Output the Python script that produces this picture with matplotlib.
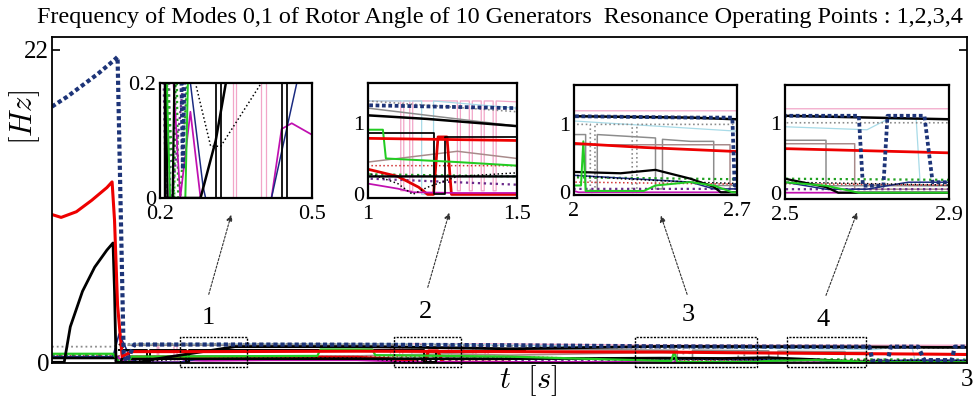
#!/usr/bin/python
# -*- coding: utf-8 -*-

import numpy as np
import matplotlib
matplotlib.use("Agg")
import matplotlib.pyplot as plt

#------------------------------Data----------------------
# each trace: time [s] and frequency [Hz] breakpoints
t_navy_dot = [0, 0.05, 0.1, 0.15, 0.2, 0.215, 0.225, 0.235, 0.245, 0.27, 0.6, 1.0,
              1.5, 2.0, 2.5, 2.68, 2.69, 2.74, 2.75, 2.84, 2.86, 2.95, 2.96, 3.0]
f_navy_dot = [18.0, 18.7, 19.5, 20.3, 21.2, 21.5, 11.0, 0.6, 0.05, 1.25, 1.25, 1.24,
              1.2, 1.12, 1.1, 1.1, 0.1, 0.1, 1.1, 1.1, 0.15, 0.15, 1.1, 1.1]

t_red = [0, 0.03, 0.08, 0.13, 0.18, 0.197, 0.205, 0.215, 0.23, 0.26, 0.5, 1.0,
         1.5, 2.0, 2.3, 2.5, 2.7, 2.9, 3.0]
f_red = [10.4, 10.2, 10.6, 11.4, 12.3, 12.7, 10.0, 4.0, 0.4, 0.75, 0.75, 0.78,
         0.75, 0.72, 0.66, 0.63, 0.6, 0.57, 0.55]

t_black = [0, 0.04, 0.06, 0.1, 0.14, 0.18, 0.2, 0.205, 0.21, 0.28, 0.31, 0.33,
           0.45, 0.6, 1.0, 1.2, 1.35, 1.5, 2.0, 2.5, 2.9, 3.0]
f_black = [0.0, 0.0, 2.5, 5.0, 6.7, 7.9, 8.4, 5.0, 0.0, 0.0, 0.1, 0.2,
           0.6, 1.1, 1.1, 1.05, 1.0, 0.95, 1.12, 1.1, 1.05, 1.05]

t_black2 = [0.22, 0.31, 0.31, 0.32, 0.32, 0.44, 0.44, 0.45, 0.45, 1.0, 1.22,
            1.22, 1.26, 1.26, 1.5, 1.55]
f_black2 = [0.85, 0.85, 0.0, 0.0, 0.85, 0.85, 0.0, 0.0, 0.85, 0.85, 0.85,
            0.0, 0.0, 0.8, 0.8, 0.8]

t_black_low = [0, 0.21, 0.215, 0.225, 0.23, 0.25, 1.0, 1.5, 2.0, 2.2, 2.35,
               2.5, 2.6, 2.63, 3.0]
f_black_low = [0.3, 0.3, 0.0, 0.0, 0.3, 0.25, 0.25, 0.25, 0.3, 0.28, 0.33,
               0.2, 0.08, 0.0, 0.0]

t_black_dot = [0.22, 0.27, 0.3, 0.32, 0.4, 0.6, 1.0, 1.1, 1.15, 1.2, 1.3, 1.5,
               2.0, 2.2, 2.5, 3.0]
f_black_dot = [1.3, 0.2, 0.09, 0.09, 0.2, 0.3, 0.3, 0.15, 0.0, 0.1, 0.25, 0.3,
               0.25, 0.2, 0.15, 0.1]

t_grey_dot = [0, 0.2, 0.23, 0.26, 1.0, 2.0, 2.07, 2.07, 2.09, 2.09, 2.25, 2.25,
              2.27, 2.27, 2.5, 3.0]
f_grey_dot = [1.1, 1.1, 1.3, 1.3, 1.3, 1.0, 1.0, 0.0, 0.0, 1.0, 1.0, 0.0,
              0.0, 1.0, 1.0, 1.0]

t_grey = [0.25, 1.0, 1.3, 1.5, 2.0, 2.05, 2.05, 2.1, 2.1, 2.35, 2.35, 2.38,
          2.38, 2.5, 2.6, 2.6, 3.0]
f_grey = [1.2, 1.2, 1.05, 0.95, 0.85, 0.85, 0.0, 0.0, 0.85, 0.8, 0.05, 0.05,
          0.78, 0.75, 0.75, 0.1, 0.1]

t_brown = [0.25, 1.0, 1.3, 1.5, 2.0, 2.5, 2.67, 2.67, 3.0]
f_brown = [0.45, 0.45, 0.6, 0.5, 0.7, 0.7, 0.7, 0.05, 0.05]

t_green = [0, 0.2, 0.22, 0.25, 0.26, 0.87, 0.88, 1.05, 1.06, 1.3, 1.5, 2.0,
           2.03, 2.04, 2.05, 2.1, 2.3, 2.35, 2.5, 2.6, 2.68, 3.0]
f_green = [0.6, 0.6, 0.0, 0.0, 0.4, 0.45, 0.9, 0.9, 0.5, 0.45, 0.4, 0.1,
           0.1, 0.75, 0.02, 0.02, 0.02, 0.1, 0.15, 0.1, 0.0, 0.0]

t_green_dot = [0, 0.2, 0.228, 0.232, 0.236, 0.24, 0.26, 1.0, 2.0, 3.0]
f_green_dot = [0.45, 0.45, 0.0, 0.3, 0.0, 0.0, 0.3, 0.28, 0.22, 0.18]

t_purple_dot = [0, 0.2, 0.212, 0.216, 0.22, 0.224, 0.25, 1.0, 2.0, 3.0]
f_purple_dot = [0.5, 0.5, 0.0, 0.4, 0.0, 0.0, 0.24, 0.22, 0.05, 0.05]

t_magenta = [0, 0.22, 0.24, 0.26, 0.28, 0.42, 0.44, 0.46, 0.5, 0.7, 1.0, 1.1,
             1.15, 1.3, 2.0, 2.02, 3.0]
f_magenta = [0.3, 0.3, 0.0, 0.15, 0.0, 0.0, 0.12, 0.13, 0.11, 0.15, 0.15, 0.08,
             0.03, 0.02, 0.02, 0.0, 0.0]

t_pink = [0.25, 0.345, 0.345, 0.35, 0.35, 0.40, 0.40, 0.41, 0.41, 1.11, 1.11,
          1.12, 1.12, 1.14, 1.14, 1.15, 1.15, 1.3, 1.3, 1.31, 1.31, 1.34, 1.34,
          1.35, 1.35, 1.38, 1.38, 1.39, 1.39, 1.42, 1.42, 1.43, 1.43, 2.0, 3.0]
f_pink = [1.3, 1.3, 0.0, 0.0, 1.3, 1.3, 0.0, 0.0, 1.3, 1.3, 0.05,
          0.05, 1.3, 1.3, 0.05, 0.05, 1.3, 1.3, 0.05, 0.05, 1.3, 1.3, 0.05,
          0.05, 1.3, 1.3, 0.05, 0.05, 1.3, 1.3, 0.05, 0.05, 1.3, 1.2, 1.2]

t_lightblue = [0.25, 1.0, 1.18, 1.18, 1.22, 1.22, 1.5, 2.0, 2.7, 2.75, 2.82,
               2.83, 2.9, 3.0]
f_lightblue = [1.3, 1.3, 1.3, 0.0, 0.0, 1.3, 1.2, 1.05, 0.9, 1.05, 1.05,
               0.1, 0.1, 0.1]

t_navy = [0, 0.2, 0.22, 0.26, 0.285, 0.29, 0.42, 0.47, 0.6, 1.0, 1.5, 2.0, 2.5,
          2.6, 2.7, 2.8, 2.9, 3.0]
f_navy = [0.4, 0.4, 2.0, 0.2, 0.02, 0.0, 0.0, 0.2, 0.25, 0.25, 0.25, 0.25,
          0.15, 0.05, 0.05, 0.15, 0.15, 0.15]

t_red_dot = [0, 0.22, 0.25, 1.0, 1.5, 2.0, 2.7, 3.0]
f_red_dot = [0.45, 0.45, 0.4, 0.4, 0.4, 0.15, 0.12, 0.1]

t_red2 = [0.25, 1.0, 1.1, 1.17, 1.2, 1.22, 1.235, 1.265, 1.28, 1.5]
f_red2 = [0.35, 0.35, 0.25, 0.1, 0.0, 0.0, 0.8, 0.8, 0.0, 0.0]

# zoom windows of the insets
inset_xlim = [(0.2, 0.5), (1.0, 1.5), (2.0, 2.7), (2.5, 2.9)]
inset_ylim = [(0, 0.2), (-0.05, 1.55), (-0.04, 1.58), (-0.09, 1.54)]
inset_xticks = [[0.2, 0.5], [1, 1.5], [2, 2.7], [2.5, 2.9]]
inset_yticks = [[0, 0.2], [0, 1], [0, 1], [0, 1]]
inset_xlabels = [["0.2", "0.5"], ["1", "1.5"], ["2", "2.7"], ["2.5", "2.9"]]
inset_ylabels = [["0", "0.2"], ["0", "1"], ["0", "1"], ["0", "1"]]

# dashed boxes on the main axes (t0, t1)
box_t = [(0.42, 0.64), (1.12, 1.34), (1.91, 2.31), (2.41, 2.67)]
box_f = (-0.35, 1.8)
#------------------------------------------------------------------------------


def draw_traces(ax, scale=1.0):
    ax.plot(t_pink, f_pink, color="#f2a6c8", lw=1.0 * scale)
    ax.plot(t_lightblue, f_lightblue, color="#a8dbe8", lw=1.0 * scale)
    ax.plot(t_grey_dot, f_grey_dot, color="#8a8a8a", lw=1.3 * scale, ls=":")
    ax.plot(t_grey, f_grey, color="#8c8c8c", lw=1.2 * scale)
    ax.plot(t_brown, f_brown, color="#a88a8a", lw=1.2 * scale)
    ax.plot(t_red_dot, f_red_dot, color="#d03030", lw=1.2 * scale, ls=":")
    ax.plot(t_purple_dot, f_purple_dot, color="#6a2a8a", lw=1.8 * scale,
            ls=":")
    ax.plot(t_green_dot, f_green_dot, color="#20a020", lw=1.8 * scale, ls=":")
    ax.plot(t_red2, f_red2, color="#e00000", lw=2.2 * scale)
    ax.plot(t_magenta, f_magenta, color="#c010b0", lw=1.4 * scale)
    ax.plot(t_navy, f_navy, color="#1a2a80", lw=1.2 * scale)
    ax.plot(t_black_dot, f_black_dot, color="black", lw=1.2 * scale, ls=":")
    ax.plot(t_black_low, f_black_low, color="black", lw=1.8 * scale)
    ax.plot(t_black2, f_black2, color="black", lw=1.4 * scale)
    ax.plot(t_green, f_green, color="#22cc22", lw=1.6 * scale)
    ax.plot(t_black, f_black, color="black", lw=2.0 * scale)
    ax.plot(t_red, f_red, color="#ee0000", lw=2.2 * scale)
    ax.plot(t_navy_dot, f_navy_dot, color="#1d3478", lw=3.0 * scale,
            ls=(0, (1, 0.7)))


def main():
    plt.rcParams.update({
        "font.family": "serif",
        "font.serif": ["Liberation Serif", "DejaVu Serif"],
        "mathtext.fontset": "cm",
        })

    W, H = 975, 399
    fig = plt.figure(figsize=(W / 100, H / 100), dpi=100)

    def px(x0, y0, x1, y1):
        return [x0 / W, 1 - y1 / H, (x1 - x0) / W, (y1 - y0) / H]

    #--------------------------------Main axes---------------------------------
    ax = fig.add_axes(px(52, 37, 967, 363))
    draw_traces(ax)
    ax.set_xlim(0, 3)
    ax.set_ylim(-0.05, 22.9)
    ax.set_yticks([0, 22])
    ax.set_yticklabels(["0", "22"])
    ax.set_xticks([3])
    ax.set_xticklabels(["3"])
    ax.tick_params(direction="in", labelsize=18, length=6, right=True,
                   width=1.2, pad=2)
    ax.tick_params(axis="x", length=0, pad=4)
    for s in ax.spines.values():
        s.set_linewidth(1.3)

    for t0, t1 in box_t:
        ax.plot([t0, t1, t1, t0, t0],
                [box_f[0], box_f[0], box_f[1], box_f[1], box_f[0]],
                color="black", lw=1.0, ls=(0, (1.5, 1)), zorder=5,
                clip_on=False)

    fig.text(0.513, 1 - 17 / H,
             "Frequency of Modes 0,1 of Rotor Angle of 10 Generators  "
             "Resonance Operating Points : 1,2,3,4",
             ha="center", va="center", fontsize=17.4)
    fig.text(25 / W, 1 - 118 / H, r"$[Hz]$", rotation=90, ha="center",
             va="center", fontsize=22)
    fig.text(528 / W, 1 - 381 / H, r"$t\ \ [s]$", ha="center", va="center",
             fontsize=22)

    #--------------------------------Insets------------------------------------
    boxes = [(160, 83, 312, 198), (368, 83, 517, 198),
             (574, 85, 737, 195), (785, 85, 949, 199)]
    for i, b in enumerate(boxes):
        ia = fig.add_axes(px(*b))
        ia.set_facecolor("white")
        draw_traces(ia, 0.9)
        ia.set_xlim(*inset_xlim[i])
        ia.set_ylim(*inset_ylim[i])
        ia.set_xticks(inset_xticks[i])
        ia.set_xticklabels(inset_xlabels[i])
        ia.set_yticks(inset_yticks[i])
        ia.set_yticklabels(inset_ylabels[i])
        ia.tick_params(length=0, labelsize=16, pad=3)
        ia.tick_params(axis="x", pad=5)
        for s in ia.spines.values():
            s.set_linewidth(1.6)

    #------------------------------Arrows and labels---------------------------
    arrows = [((208, 297), (232, 212), (208, 318)),
              ((427, 290), (450, 210), (425, 312)),
              ((688, 297), (660, 213), (688, 315)),
              ((825, 298), (858, 210), (823, 320))]
    for k, (tail, tip, lab) in enumerate(arrows):
        fig.add_artist(matplotlib.patches.FancyArrowPatch(
            (tail[0] / W, 1 - tail[1] / H), (tip[0] / W, 1 - tip[1] / H),
            transform=fig.transFigure, arrowstyle="-|>", mutation_scale=9,
            lw=0.8, color="#333333", linestyle=(0, (2, 1.5))))
        fig.text(lab[0] / W, 1 - lab[1] / H, str(k + 1), ha="center",
                 va="center", fontsize=19)

    fig.savefig("out.png", dpi=100)


if __name__ == "__main__":
    main()
